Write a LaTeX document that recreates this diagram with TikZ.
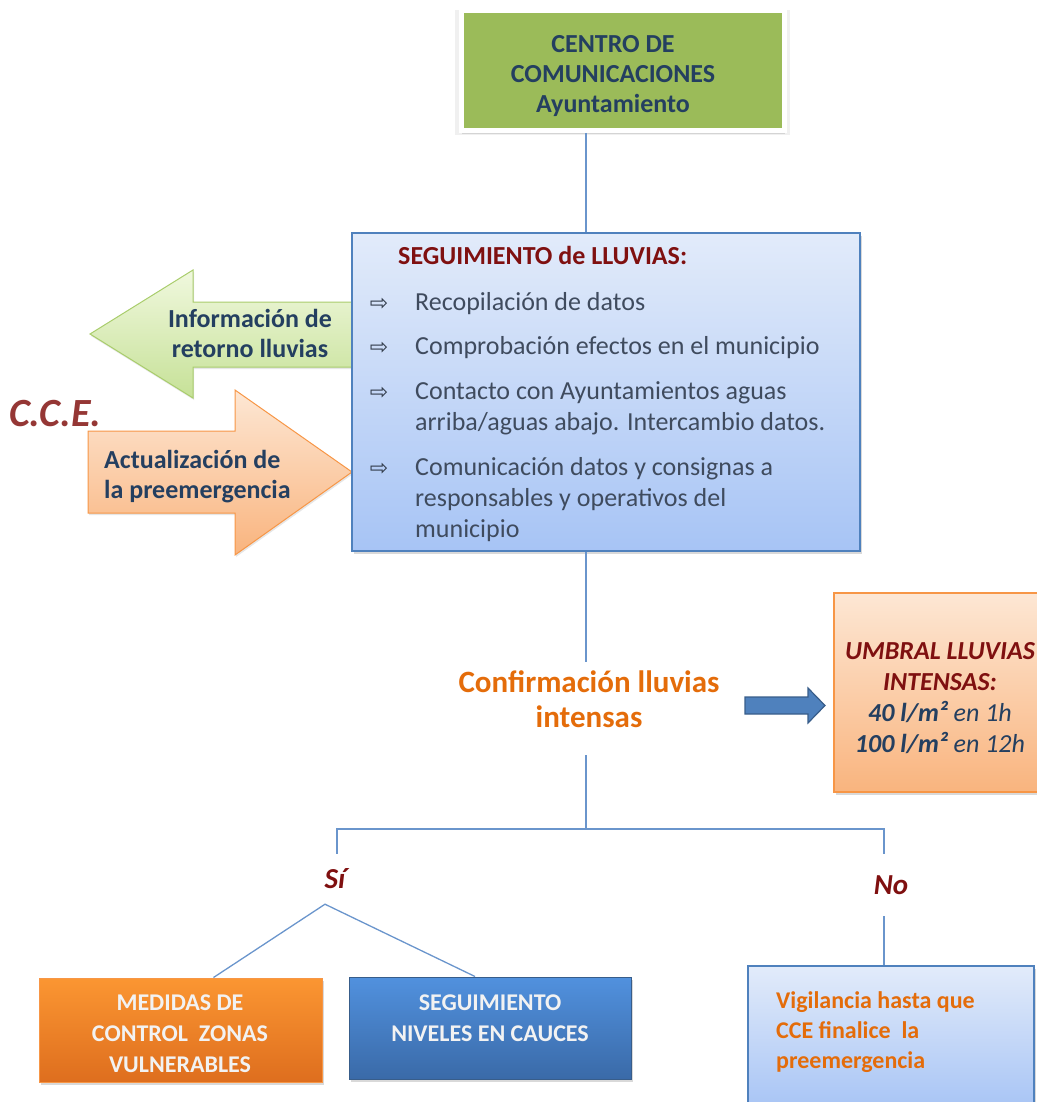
\documentclass[tikz,border=0pt]{standalone}
\usepackage{fontspec}
\setmainfont{Carlito}
\newfontfamily\arrowsym{DejaVu Sans}
\usetikzlibrary{shadows,calc}

\definecolor{linkblue}{HTML}{6A95CC}
\definecolor{navy}{HTML}{243F60}
\definecolor{darkred}{HTML}{7F1010}
\definecolor{itemgray}{HTML}{3F4B5E}
\definecolor{orangetxt}{HTML}{E46C0A}
\definecolor{ccered}{HTML}{953735}
\definecolor{topgreen}{HTML}{9BBB59}
\definecolor{boxedge}{HTML}{4F81BD}
\definecolor{paleblueA}{HTML}{E2EBFA}
\definecolor{paleblueB}{HTML}{A7C4F5}
\definecolor{greenA}{HTML}{F0F8DE}
\definecolor{greenB}{HTML}{C6E197}
\definecolor{greenedge}{HTML}{A9CD6C}
\definecolor{peachA}{HTML}{FDE7D4}
\definecolor{peachB}{HTML}{F9B47E}
\definecolor{peachedge}{HTML}{F79646}
\definecolor{orangeA}{HTML}{FB9632}
\definecolor{orangeB}{HTML}{DE6E1E}
\definecolor{blueA}{HTML}{5191DE}
\definecolor{blueB}{HTML}{3A6AA8}
\definecolor{blueedge}{HTML}{385D8A}
\definecolor{lighttxt}{HTML}{F2F2F2}

\begin{document}
\begin{tikzpicture}[x=1pt,y=-1pt,
  conn/.style={draw=linkblue, line width=1.3pt},
  softshadow/.style={drop shadow={opacity=0.3, shadow xshift=2pt, shadow yshift=-3pt}},
  lightbox/.style={draw=boxedge, line width=1.2pt, top color=paleblueA, bottom color=paleblueB,
    softshadow, inner sep=0},
  peachbox/.style={draw=peachedge, line width=1.2pt, top color=peachA, bottom color=peachB,
    softshadow, inner sep=0},
  orangebox/.style={draw=peachedge, line width=1pt, top color=orangeA, bottom color=orangeB,
    softshadow, inner sep=0},
  bluebox/.style={draw=blueedge, line width=1pt, top color=blueA, bottom color=blueB,
    softshadow, inner sep=0},
  greenarrow/.style={draw=greenedge, line width=1pt, top color=greenA, bottom color=greenB,
    drop shadow={opacity=0.2, shadow xshift=1pt, shadow yshift=-2pt}},
  peacharrow/.style={draw=peachedge, line width=1pt, top color=peachA, bottom color=peachB,
    drop shadow={opacity=0.2, shadow xshift=1pt, shadow yshift=-2pt}},
  txt/.style={inner sep=0, font=\fontsize{26}{31}\selectfont},
  headtxt/.style={txt, font=\fontsize{26}{30}\selectfont\bfseries, text=navy, align=center},
  itemtxt/.style={txt, text=itemgray, align=left, anchor=base west},
  bulletmark/.style={inner sep=0, font=\arrowsym\fontsize{22}{24}\selectfont, text=itemgray!80!black, anchor=base},
  boldlabel/.style={txt, font=\fontsize{26}{30}\selectfont\bfseries, text=navy},
  boxtxt/.style={inner sep=0, font=\fontsize{24}{31}\selectfont\bfseries, text=lighttxt, align=center, anchor=base},
  answer/.style={inner sep=0, font=\fontsize{29}{32}\selectfont\bfseries\itshape, text=darkred}
]
\useasboundingbox (0,0) rectangle (1036,1102);

% ---- incoming / outgoing arrows of the follow-up box
\path[greenarrow] (352,302) -- (193,302) -- (193,270) -- (90,334) -- (193,398)
  -- (193,367) -- (352,367) -- cycle;
\path[peacharrow] (88,431) -- (235,431) -- (235,390) -- (352,472) -- (235,555)
  -- (235,513) -- (88,513) -- cycle;
\node[boldlabel, align=center, anchor=base] (retorno) at (250,357)
  {Información de\\retorno lluvias};
\node[boldlabel, align=left, anchor=base west] (actual) at (104,498)
  {Actualización de\\la preemergencia};
\node[inner sep=0, anchor=base west, font=\fontsize{40}{44}\selectfont\bfseries\itshape,
  text=ccered] (cce) at (9,426) {C.C.E.};

% ---- communications centre (white frame with a soft shadow all round)
\node[draw=white, line width=5pt, fill=topgreen, minimum width=323, minimum height=120,
  inner sep=0,
  drop shadow={opacity=0.12, shadow xshift=0pt, shadow yshift=-2pt, shadow scale=1.035},
  drop shadow={opacity=0.25, shadow xshift=1pt, shadow yshift=-4pt, shadow scale=1.0}]
  (centro) at (622.5,70.5) {};
\node[headtxt, anchor=base] (centrotxt) at (613,113)
  {CENTRO DE\\COMUNICACIONES\\Ayuntamiento};

% ---- rain follow-up box
\node[lightbox, minimum width=508, minimum height=318] (seg) at (606,392) {};
\draw[conn] (centro.south -| 586,0) -- (seg.north -| 586,0);
\node[inner sep=0, anchor=base west, font=\fontsize{26}{30}\selectfont\bfseries,
  text=darkred] (segtit) at (398,264) {SEGUIMIENTO de LLUVIAS:};
\node[bulletmark] (b1) at (379,310) {⇨};
\node[bulletmark] (b2) at (379,354) {⇨};
\node[bulletmark] (b3) at (379,399) {⇨};
\node[bulletmark] (b4) at (379,475) {⇨};
\node[itemtxt] (i1) at (415,310) {Recopilación de datos};
\node[itemtxt] (i2) at (415,354) {Comprobación efectos en el municipio};
\node[itemtxt] (i3) at (415,430) {Contacto con Ayuntamientos aguas\\arriba/aguas abajo. Intercambio datos.};
\node[itemtxt] (i4) at (415,537) {Comunicación datos y consignas a\\responsables y operativos del\\municipio};

% ---- confirmation of heavy rain
\node[inner sep=0, align=center, anchor=base, font=\fontsize{31}{35}\selectfont\bfseries,
  text=orangetxt] (conf) at (589,727) {Confirmación lluvias\\intensas};
\draw[conn] (seg.south -| 586,0) -- ($(conf.north -| 586,0)+(0,-8)$);

% ---- threshold box
\node[peachbox, minimum width=212, minimum height=199] (umbral) at (940,692.5) {};
\node[inner sep=0, align=center, anchor=base, font=\fontsize{26}{31}\selectfont\itshape,
  text=navy] (umbraltxt) at (940,752)
  {\textcolor{darkred}{\bfseries UMBRAL LLUVIAS}\\
   \textcolor{darkred}{\bfseries INTENSAS:}\\
   {\bfseries 40 l/m²} en 1h\\
   {\bfseries 100 l/m²} en 12h};
\path[draw=blueedge, line width=1.2pt, fill=boxedge] (745,697) -- (808,697) -- (808,688)
  -- (825,705.5) -- (808,723) -- (808,714) -- (745,714) -- cycle;

% ---- yes / no branch
\coordinate (split) at (586,829);
\coordinate (sibar) at (337,829);
\coordinate (nobar) at (884,829);
\node[answer, minimum height=50] (si) at (335,879) {Sí};
\node[answer, minimum height=62] (no) at (891,885) {No};
\draw[conn] ($(conf.south -| 586,0)+(0,28)$) -- (split);
\draw[conn] (sibar |- si.north) -- (sibar) -- (nobar) -- (nobar |- no.north);

% ---- resulting actions
\node[orangebox, minimum width=283, minimum height=104] (medidas) at (180.5,1030) {};
\node[bluebox, minimum width=282, minimum height=102] (segniv) at (490,1028) {};
\node[lightbox, minimum width=286, minimum height=144] (vigil) at (891,1038) {};
\node[boxtxt] (medidastxt) at (180,1072) {MEDIDAS DE\\CONTROL~ ZONAS\\VULNERABLES};
\node[boxtxt] (segnivtxt) at (490,1041) {SEGUIMIENTO\\NIVELES EN CAUCES};
\node[inner sep=0, align=left, anchor=base west, font=\fontsize{24}{30}\selectfont\bfseries,
  text=orangetxt] (vigiltxt) at (776,1068) {Vigilancia hasta que\\CCE finalice~ la\\preemergencia};

\draw[conn] ($(medidas.north)+(33,0)$) -- ($(si.south)+(-10,0)$) -- ($(segniv.north)+(-15,0)$);
\draw[conn] (no.south -| nobar) -- (vigil.north -| nobar);
\end{tikzpicture}
\end{document}
